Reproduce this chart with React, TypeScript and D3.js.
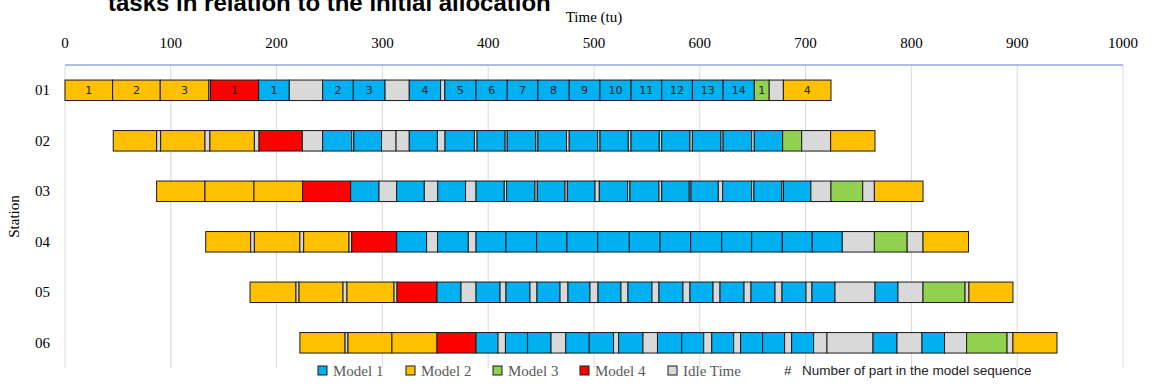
import React from "react";
import * as d3 from "d3";

type Seg = [string, number, number, string?];

const stations = ["01", "02", "03", "04", "05", "06"];
const xTicks = [0, 100, 200, 300, 400, 500, 600, 700, 800, 900, 1000];
const modelKeys = ["M1", "M2", "M3", "M4", "I"];
const modelNames = ["Model 1", "Model 2", "Model 3", "Model 4", "Idle Time"];
const modelColors = ["#00b0f0", "#ffc000", "#92d050", "#ff0000", "#d9d9d9"];

const st01: Seg[] = [
  ["M2", 0, 45, "1"], ["M2", 45, 90, "2"], ["M2", 90, 136, "3"], ["I", 136, 137.5],
  ["M4", 137.5, 183, "1"], ["M1", 183, 212, "1"], ["I", 212, 243.5],
  ["M1", 243.5, 272.5, "2"], ["M1", 272.5, 302.5, "3"], ["I", 302.5, 325.4],
  ["M1", 325.4, 355, "4"], ["I", 355, 359], ["M1", 359, 388.5, "5"],
  ["M1", 388.5, 418, "6"], ["M1", 418, 447, "7"], ["M1", 447, 476.6, "8"],
  ["M1", 476.6, 505.6, "9"], ["M1", 505.6, 535, "10"], ["M1", 535, 564, "11"],
  ["M1", 564, 593, "12"], ["M1", 593, 622, "13"], ["M1", 622, 651.5, "14"],
  ["M3", 651.5, 665.6, "1"], ["I", 665.6, 679], ["M2", 679, 724, "4"],
];

const st02: Seg[] = [
  ["M2", 45.6, 86.6], ["I", 86.6, 90.4], ["M2", 90.4, 132.3], ["I", 132.3, 137],
  ["M2", 137, 179], ["I", 179, 183.4], ["M4", 183.4, 224.3], ["I", 224.3, 243.5],
  ["M1", 243.5, 271], ["I", 271, 273], ["M1", 273, 299.2], ["I", 299.2, 312.9],
  ["I", 312.9, 325.4], ["M1", 325.4, 352], ["I", 352, 359.2], ["M1", 359.2, 387],
  ["I", 387, 389.5], ["M1", 389.5, 416], ["I", 416, 418], ["M1", 418, 445],
  ["I", 445, 447], ["M1", 447, 474], ["I", 474, 476.6], ["M1", 476.6, 503.5],
  ["I", 503.5, 505.7], ["M1", 505.7, 532.4], ["I", 532.4, 535], ["M1", 535, 561.7],
  ["I", 561.7, 564], ["M1", 564, 590.7], ["I", 590.7, 593], ["M1", 593, 620],
  ["I", 620, 622], ["M1", 622, 649], ["I", 649, 651.5], ["M1", 651.5, 678.3],
  ["M3", 678.3, 696.3], ["I", 696.3, 723.7], ["M2", 723.7, 765.6],
];

const st03: Seg[] = [
  ["M2", 86.6, 132.3], ["M2", 132.3, 178.6], ["M2", 178.6, 224.6], ["M4", 224.6, 270],
  ["M1", 270, 296.8], ["I", 296.8, 313.5], ["M1", 313.5, 339.6], ["I", 339.6, 352.3],
  ["M1", 352.3, 378.6], ["I", 378.6, 388.5], ["M1", 388.5, 415.2], ["I", 415.2, 417.4],
  ["M1", 417.4, 444.2], ["I", 444.2, 446.4], ["M1", 446.4, 472.6], ["I", 472.6, 474.8],
  ["M1", 474.8, 501], ["I", 501, 505], ["M1", 505, 531.8], ["I", 531.8, 534],
  ["M1", 534, 561.4], ["I", 561.4, 564], ["M1", 564, 590], ["I", 590, 591.7],
  ["M1", 591.7, 617.5], ["I", 617.5, 621.6], ["M1", 621.6, 649], ["I", 649, 651.2],
  ["M1", 651.2, 677.4], ["I", 677.4, 679], ["M1", 679, 705], ["I", 705, 724],
  ["M3", 724, 754], ["I", 754, 765], ["M2", 765, 811],
];

const st04: Seg[] = [
  ["M2", 133, 175.5], ["I", 175.5, 179], ["M2", 179, 222], ["I", 222, 225.6],
  ["M2", 225.6, 268.4], ["I", 268.4, 271], ["M4", 271, 313.5], ["M1", 313.5, 341.8],
  ["I", 341.8, 352.2], ["M1", 352.2, 381.2], ["I", 381.2, 388.5], ["M1", 388.5, 416.8],
  ["M1", 416.8, 445.8], ["M1", 445.8, 474.4], ["M1", 474.4, 503.5], ["M1", 503.5, 533.4],
  ["M1", 533.4, 562.4], ["M1", 562.4, 591.4], ["M1", 591.4, 620.7], ["M1", 620.7, 649],
  ["M1", 649, 678], ["M1", 678, 706.3], ["M1", 706.3, 734.7], ["I", 734.7, 765],
  ["M3", 765, 796], ["I", 796, 811], ["M2", 811, 854],
];

const st05: Seg[] = [
  ["M2", 174.9, 218.3], ["I", 218.3, 221.2], ["M2", 221.2, 262.8], ["I", 262.8, 266.5],
  ["M2", 266.5, 311], ["I", 311, 313.8], ["M4", 313.8, 351.6], ["M1", 351.6, 374.3],
  ["I", 374.3, 388.5], ["M1", 388.5, 411.2], ["I", 411.2, 416.8], ["M1", 416.8, 439.5],
  ["I", 439.5, 446.1], ["M1", 446.1, 467.9], ["I", 467.9, 475.4], ["M1", 475.4, 496.2],
  ["I", 496.2, 503.8], ["M1", 503.8, 525.5], ["I", 525.5, 532.1], ["M1", 532.1, 554.8],
  ["I", 554.8, 561.4], ["M1", 561.4, 584.1], ["I", 584.1, 590.7], ["M1", 590.7, 612.5],
  ["I", 612.5, 619.1], ["M1", 619.1, 641.8], ["I", 641.8, 648.4], ["M1", 648.4, 671.1],
  ["I", 671.1, 677.7], ["M1", 677.7, 700.4], ["I", 700.4, 706], ["M1", 706, 727.8],
  ["I", 727.8, 765.6], ["M1", 765.6, 787.3], ["I", 787.3, 811], ["M3", 811, 850.7],
  ["I", 850.7, 854.4], ["M2", 854.4, 896],
];

const st06: Seg[] = [
  ["M2", 222, 264.7], ["I", 264.7, 267.5], ["M2", 267.5, 309], ["M2", 309, 351.6],
  ["M4", 351.6, 388.5], ["M1", 388.5, 409.3], ["I", 409.3, 416.3], ["M1", 416.3, 437.2],
  ["M1", 437.2, 459.4], ["I", 459.4, 473.3], ["M1", 473.3, 495.5], ["M1", 495.5, 518.5],
  ["I", 518.5, 523.3], ["M1", 523.3, 546.3], ["I", 546.3, 560], ["M1", 560, 582.9],
  ["M1", 582.9, 603.7], ["I", 603.7, 611.3], ["M1", 611.3, 632], ["I", 632, 638.6],
  ["M1", 638.6, 659.4], ["M1", 659.4, 680.2], ["I", 680.2, 686.8], ["M1", 686.8, 707.6],
  ["I", 707.6, 720.2], ["I", 720.2, 763.7], ["M1", 763.7, 786.4], ["I", 786.4, 810],
  ["M1", 810, 831.3], ["I", 831.3, 852.2], ["M3", 852.2, 890.4], ["I", 890.4, 896],
  ["M2", 896, 937.6],
];

const schedule = [st01, st02, st03, st04, st05, st06];

export default function App() {
  const W = 1154;
  const H = 385;
  const x = d3.scaleLinear().domain([0, 1000]).range([65, 1123]);
  const y = d3.scalePoint<string>().domain(stations).range([90.3, 342.8]);
  const color = d3.scaleOrdinal<string, string>().domain(modelKeys).range(modelColors);
  const barH = 20.5;
  const plotTop = 65;
  const plotBottom = 368;
  const serif = "'Liberation Serif', 'Times New Roman', serif";

  const legendX = [318, 406, 493, 580, 668];

  return (
    <svg
      width={W}
      height={H}
      style={{ position: "absolute", left: 0, top: 0, background: "#fff" }}
      fontFamily={serif}
    >
      <rect width={W} height={H} fill="#fff" />
      <text
        x={108}
        y={11}
        fontFamily="'Liberation Sans', Arial, sans-serif"
        fontWeight="bold"
        fontSize={24}
        fill="#000"
      >
        tasks in relation to the initial allocation
      </text>
      <text x={x(500)} y={22} textAnchor="middle" fontSize={15}>
        Time (tu)
      </text>
      {xTicks.map((t) => (
        <g key={t}>
          <line x1={x(t)} x2={x(t)} y1={plotTop} y2={plotBottom} stroke="#d9d9d9" strokeWidth={1} />
          <text x={x(t)} y={48} textAnchor="middle" fontSize={15}>
            {t}
          </text>
        </g>
      ))}
      <line x1={x(0)} x2={x(1000)} y1={plotTop} y2={plotTop} stroke="#8faadc" strokeWidth={1.5} />
      <text
        transform={`translate(19,${(plotTop + plotBottom) / 2}) rotate(-90)`}
        textAnchor="middle"
        fontSize={15}
      >
        Station
      </text>
      {stations.map((s, i) => (
        <g key={s}>
          <text x={50} y={(y(s) as number) + 5} textAnchor="end" fontSize={15}>
            {s}
          </text>
          {schedule[i].map((seg, j) => {
            const [k, a, b, lab] = seg;
            const x0 = x(a);
            const x1 = x(b);
            const yc = y(s) as number;
            return (
              <g key={j}>
                <rect
                  x={x0}
                  y={yc - barH / 2}
                  width={x1 - x0}
                  height={barH}
                  fill={color(k)}
                  stroke="#1a1a1a"
                  strokeWidth={1}
                />
                {lab ? (
                  <text
                    x={(x0 + x1) / 2}
                    y={yc + 4}
                    textAnchor="middle"
                    fontSize={11}
                    fontFamily="'DejaVu Sans', Verdana, sans-serif"
                    fill="#222"
                  >
                    {lab}
                  </text>
                ) : null}
              </g>
            );
          })}
        </g>
      ))}
      {modelNames.map((n, i) => (
        <g key={n}>
          <rect x={legendX[i]} y={366} width={9} height={9} fill={modelColors[i]} stroke="#1a1a1a" strokeWidth={1} />
          <text x={legendX[i] + 15} y={376} fontSize={15} fill="#595959">
            {n}
          </text>
        </g>
      ))}
      <text x={784} y={375} fontSize={13.5} fontFamily="'Liberation Sans', Arial, sans-serif" fill="#222">
        #
      </text>
      <text x={802} y={375} fontSize={13.5} fontFamily="'Liberation Sans', Arial, sans-serif" fill="#222">
        Number of part in the model sequence
      </text>
    </svg>
  );
}
